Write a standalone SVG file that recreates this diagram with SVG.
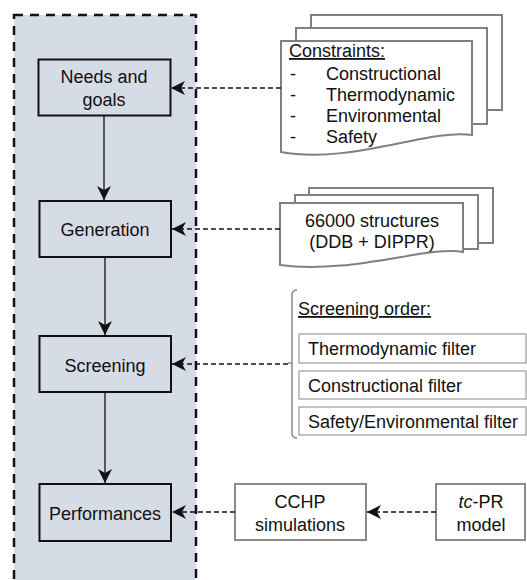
<svg xmlns="http://www.w3.org/2000/svg" width="527" height="580" viewBox="0 0 527 580">
<style>
  text { font-family: "Liberation Sans", Arial, sans-serif; font-size: 18px; fill: #111; }
  .c { text-anchor: middle; }
  .node { fill: none; stroke: #111; stroke-width: 2; }
  .sheet { fill: #fff; stroke: #808080; stroke-width: 2; }
  .gbox { fill: #fff; stroke: #8a8a8a; stroke-width: 2; }
  .fbox { fill: #fff; stroke: #9a9a9a; stroke-width: 1.2; }
  .solid { fill: none; stroke: #111; stroke-width: 1.3; marker-end: url(#ah); }
  .dash { fill: none; stroke: #111; stroke-width: 1.3; stroke-dasharray: 5 3; marker-end: url(#ah); }
  .dashplain { fill: none; stroke: #111; stroke-width: 1.3; stroke-dasharray: 5 3; }
</style>
<defs>
  <marker id="ah" viewBox="-15 -8 16 16" refX="0" refY="0" markerWidth="16" markerHeight="16" markerUnits="userSpaceOnUse" orient="auto">
    <path d="M0,0 L-14,-7 L-10,0 L-14,7 Z" fill="#111"/>
  </marker>
</defs>

<g id="container">
  <rect x="14" y="15" width="182" height="580" fill="#d6dce6" stroke="#111" stroke-width="2.5" stroke-dasharray="9 7"/>
</g>

<g id="needs">
  <rect class="node" x="38.5" y="59.5" width="132" height="56"/>
  <text class="c" x="104" y="83">Needs and</text>
  <text class="c" x="104" y="106">goals</text>
</g>
<g id="generation">
  <rect class="node" x="39.5" y="201" width="131.5" height="56"/>
  <text class="c" x="105" y="236">Generation</text>
</g>
<g id="screening">
  <rect class="node" x="39.5" y="336" width="131.5" height="56"/>
  <text class="c" x="105" y="372">Screening</text>
</g>
<g id="performances">
  <rect class="node" x="39.5" y="484" width="131.5" height="57"/>
  <text class="c" x="105" y="520">Performances</text>
</g>

<g id="constraints">
  <rect class="sheet" x="311" y="15" width="191" height="95"/>
  <rect class="sheet" x="296" y="28" width="191" height="96"/>
  <path class="sheet" d="M281,41 L472,41 L472,135 C430,128 350,165 281,152 Z"/>
  <text x="289" y="57" text-decoration="underline">Constraints:</text>
  <text x="290" y="80">-</text><text x="326" y="80">Constructional</text>
  <text x="290" y="101">-</text><text x="326" y="101">Thermodynamic</text>
  <text x="290" y="122">-</text><text x="326" y="122">Environmental</text>
  <text x="290" y="143">-</text><text x="326" y="143">Safety</text>
</g>

<g id="structures">
  <rect class="sheet" x="309" y="188" width="184" height="55"/>
  <rect class="sheet" x="295" y="195" width="183" height="54"/>
  <path class="sheet" d="M280,203 L463,203 L463,252 C430,245 350,275 280,265 Z"/>
  <text class="c" x="372" y="227">66000 structures</text>
  <text class="c" x="372" y="248">(DDB + DIPPR)</text>
</g>

<g id="screening-order">
  <path d="M297,290 Q292,290 292,295 L292,433 Q292,438 297,438 M292,363 L288,363" fill="none" stroke="#8a8a8a" stroke-width="1.5"/>
  <text x="298" y="315" text-decoration="underline">Screening order:</text>
  <rect class="fbox" x="299" y="334" width="227" height="29"/>
  <text x="308" y="355">Thermodynamic filter</text>
  <rect class="fbox" x="299" y="371" width="227" height="28"/>
  <text x="308" y="392">Constructional filter</text>
  <rect class="fbox" x="299" y="407" width="227" height="28"/>
  <text x="308" y="428">Safety/Environmental filter</text>
</g>

<g id="cchp">
  <rect class="gbox" x="235" y="484" width="131" height="56"/>
  <text class="c" x="300" y="508">CCHP</text>
  <text class="c" x="300" y="531">simulations</text>
</g>
<g id="tcpr">
  <rect class="gbox" x="436" y="484" width="89" height="56"/>
  <text class="c" x="481" y="508"><tspan font-style="italic">tc</tspan>-PR</text>
  <text class="c" x="481" y="531">model</text>
</g>

<g id="connectors">
  <line class="solid" x1="104" y1="116" x2="104" y2="200"/>
  <line class="solid" x1="105" y1="257" x2="105" y2="335"/>
  <line class="solid" x1="105" y1="392" x2="105" y2="483"/>
  <line class="dash" x1="281" y1="88" x2="171" y2="88"/>
  <line class="dash" x1="280" y1="229" x2="172" y2="229"/>
  <line class="dash" x1="288" y1="364" x2="172" y2="364"/>
  <line class="dash" x1="235" y1="512" x2="172" y2="512"/>
  <line class="dash" x1="436" y1="512" x2="367" y2="512"/>
</g>
</svg>
